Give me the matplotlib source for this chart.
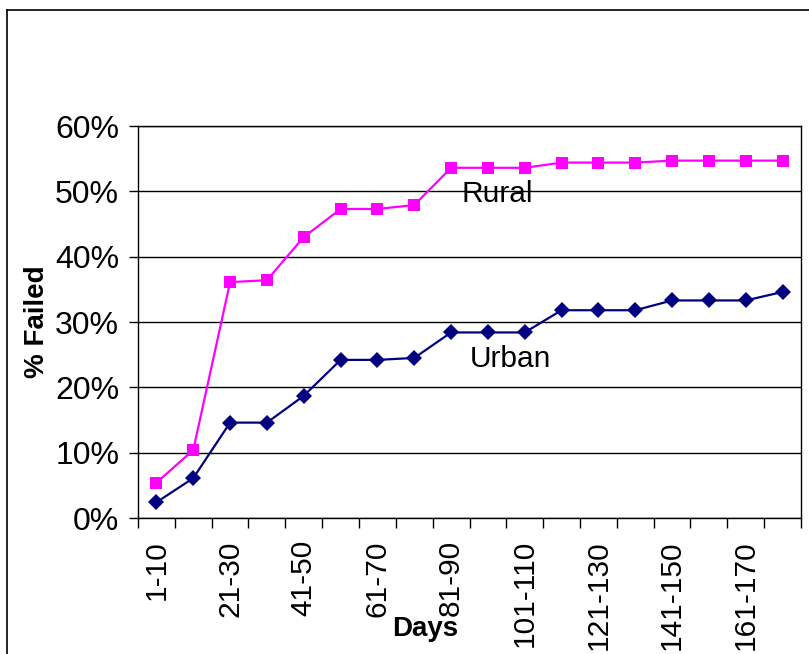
import matplotlib.pyplot as plt
import numpy as np
from matplotlib.lines import Line2D

# ---------------------------------------------------------------------------
# Data
# ---------------------------------------------------------------------------
day_bins = ["1-10", "11-20", "21-30", "31-40", "41-50", "51-60", "61-70",
            "71-80", "81-90", "91-100", "101-110", "111-120", "121-130",
            "131-140", "141-150", "151-160", "161-170", "171-180"]
rural = [5.4, 10.4, 36.1, 36.4, 43.0, 47.3, 47.3, 47.9, 53.6, 53.6, 53.6,
         54.4, 54.4, 54.4, 54.7, 54.7, 54.7, 54.7]
urban = [2.4, 6.1, 14.6, 14.6, 18.7, 24.2, 24.2, 24.5, 28.4, 28.4, 28.4,
         31.8, 31.8, 31.8, 33.3, 33.3, 33.3, 34.6]
y_ticks = [0, 10, 20, 30, 40, 50, 60]

plt.rcParams.update({
    "font.family": ["Liberation Sans", "DejaVu Sans"],
})

fig = plt.figure(figsize=(8.09, 6.54), dpi=100)
ax = fig.add_axes([138 / 809, 1 - 518 / 654, 663 / 809, 392 / 654])

x = np.arange(len(day_bins))
ax.plot(x, rural, color="#FF00FF", lw=1.6, marker="s", ms=8.5,
        markeredgewidth=0, zorder=3)
ax.plot(x, urban, color="#000080", lw=1.6, marker="D", ms=8,
        markeredgewidth=0, zorder=3)

ax.text(9.25, 49.6, "Rural", fontsize=21.5, ha="center", va="center")
ax.text(9.6, 24.3, "Urban", fontsize=21.5, ha="center", va="center")

# axes range
ax.set_xlim(-0.5, len(day_bins) - 0.5)
ax.set_ylim(0, 60)

# y axis
ax.set_yticks(y_ticks)
ax.set_yticklabels([f"{v}%" for v in y_ticks], fontsize=23)
ax.tick_params(axis="y", direction="out", length=6.5, width=1, pad=7)
ax.grid(axis="y", color="black", lw=1)

# x axis: labels on every other category, tick marks between categories
ax.set_xticks(x[::2])
ax.set_xticklabels(day_bins[::2], rotation=90, fontsize=21.5)
ax.tick_params(axis="x", which="major", length=0, pad=16)
ax.set_xticks(np.arange(-0.5, len(day_bins)), minor=True)
ax.tick_params(axis="x", which="minor", direction="out", length=7.5, width=1)

for s in ax.spines.values():
    s.set_color("black")
    s.set_linewidth(1)

ax.set_ylabel("% Failed", fontsize=20, fontweight="bold")
ax.yaxis.set_label_coords((50 - 138) / 663, 0.5)
ax.set_xlabel("Days", fontsize=20, fontweight="bold")
ax.xaxis.set_label_coords((425 - 138) / 663, -(616 - 518) / 392)

# outer chart border (left and top edges visible)
fig.add_artist(Line2D([7 / 809, 7 / 809], [0, 1 - 10 / 654],
                      transform=fig.transFigure, color="black", lw=1.2))
fig.add_artist(Line2D([7 / 809, 1], [1 - 10 / 654, 1 - 10 / 654],
                      transform=fig.transFigure, color="black", lw=1.2))

fig.savefig("out.png", dpi=100)
